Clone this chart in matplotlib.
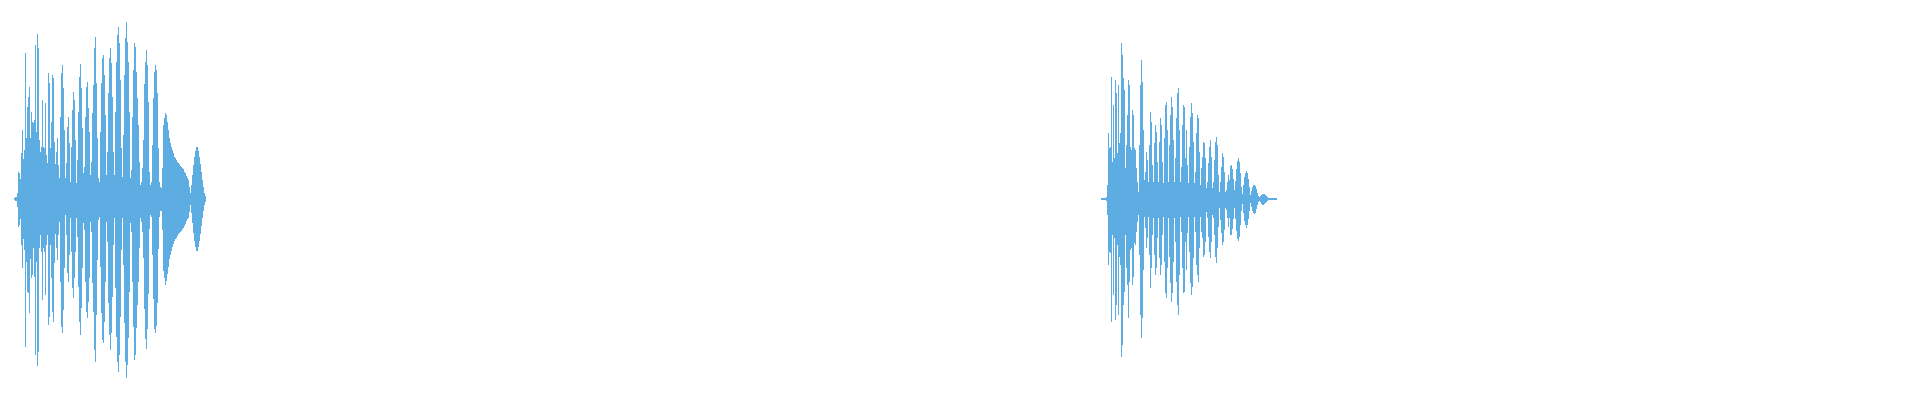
import numpy as np
import matplotlib.pyplot as plt

# --- waveform peaks, one value per pixel column (amplitude in px from the centre line) ---
# first burst starts at column 14
burst1_start = 14
burst1_top = [
    1, 2, 2, 6, 27, 26, 20, 46, 69, 40, 49, 146, 61, 92, 102, 112,
    61, 87, 77, 76, 79, 154, 67, 165, 151, 59, 47, 52, 99, 52, 51, 96,
    44, 36, 126, 116, 51, 77, 124, 121, 57, 35, 47, 61, 34, 21, 82, 126,
    134, 111, 69, 21, 36, 72, 82, 56, 17, 52, 89, 107, 99, 59, 16, 39,
    87, 122, 135, 111, 71, 26, 32, 82, 112, 117, 91, 67, 24, 37, 86, 114,
    151, 162, 116, 61, 21, 17, 67, 116, 141, 144, 124, 84, 24, 47, 106, 141,
    151, 136, 102, 47, 24, 87, 137, 164, 172, 156, 119, 51, 22, 64, 124, 161,
    177, 157, 137, 87, 21, 29, 82, 129, 156, 152, 127, 101, 74, 37, 14, 17,
    31, 59, 115, 137, 149, 134, 97, 27, 14, 17, 54, 101, 127, 134, 129, 106,
    51, 17, 12, 11, 31, 74, 81, 86, 84, 77, 69, 61, 56, 52, 49, 46,
    42, 41, 39, 37, 36, 35, 33, 32, 31, 30, 27, 26, 23, 21, 19, 12,
    6, 14, 24, 34, 42, 48, 52, 52, 48, 42, 35, 27, 19, 12, 6, 3,
]
burst1_bot = [
    1, 2, 2, 8, 28, 26, 20, 46, 69, 40, 51, 148, 63, 93, 94, 114,
    60, 79, 76, 49, 78, 156, 63, 167, 153, 49, 36, 53, 101, 49, 53, 96,
    46, 36, 126, 118, 46, 79, 113, 123, 64, 35, 49, 61, 36, 23, 83, 128,
    134, 111, 69, 16, 36, 74, 83, 56, 19, 53, 89, 99, 79, 53, 19, 38,
    88, 123, 136, 109, 69, 24, 31, 83, 113, 119, 103, 79, 23, 33, 84, 113,
    151, 163, 116, 61, 21, 18, 68, 114, 141, 144, 123, 83, 23, 43, 104, 136,
    151, 134, 98, 46, 19, 89, 138, 163, 173, 156, 118, 51, 19, 66, 124, 163,
    179, 166, 139, 93, 24, 33, 83, 128, 161, 156, 129, 106, 83, 49, 19, 23,
    33, 59, 110, 140, 150, 130, 95, 30, 16, 18, 56, 100, 130, 134, 127, 104,
    50, 18, 12, 12, 31, 72, 79, 86, 82, 75, 68, 60, 56, 52, 48, 45,
    42, 40, 39, 37, 35, 34, 33, 32, 30, 29, 27, 25, 22, 20, 19, 13,
    6, 14, 24, 34, 42, 48, 52, 52, 48, 42, 35, 27, 19, 12, 6, 3,
]

# second burst starts at column 1101
burst2_start = 1101
burst2_top = [
    1, 1, 1, 1, 1, 2, 14, 66, 51, 52, 122, 37, 94, 41, 119, 106,
    46, 114, 56, 66, 156, 144, 121, 109, 31, 54, 84, 119, 114, 52, 49, 89,
    84, 51, 49, 31, 17, 7, 54, 114, 139, 117, 69, 19, 27, 47, 39, 17,
    54, 87, 77, 34, 17, 56, 74, 67, 37, 17, 57, 81, 74, 37, 16, 61,
    94, 97, 69, 17, 54, 84, 102, 92, 59, 17, 41, 81, 106, 111, 69, 17,
    32, 74, 94, 92, 41, 69, 34, 16, 52, 82, 96, 86, 57, 16, 27, 66,
    84, 81, 47, 14, 31, 42, 57, 56, 41, 11, 17, 36, 52, 59, 42, 11,
    17, 39, 57, 62, 54, 24, 7, 17, 32, 46, 42, 27, 7, 9, 17, 24,
    19, 33, 34, 30, 20, 9, 18, 30, 38, 41, 37, 26, 12, 5, 14, 22,
    26, 28, 26, 20, 12, 4, 8, 12, 14, 14, 13, 10, 6, 3, 2, 3,
    4, 5, 5, 5, 4, 3, 2, 1, 1, 1, 1, 1, 1, 1, 1, 1,
]
burst2_bot = [
    1, 1, 1, 1, 1, 2, 16, 66, 53, 54, 123, 36, 96, 39, 121, 106,
    46, 116, 58, 66, 158, 146, 106, 93, 36, 69, 86, 119, 83, 51, 49, 86,
    78, 44, 46, 33, 23, 16, 56, 116, 139, 119, 71, 18, 29, 49, 39, 18,
    56, 89, 69, 36, 19, 56, 76, 69, 39, 19, 59, 76, 66, 36, 18, 63,
    94, 99, 69, 19, 58, 84, 103, 94, 63, 19, 43, 83, 106, 116, 76, 18,
    33, 69, 94, 93, 43, 71, 34, 18, 53, 84, 96, 88, 59, 18, 33, 66,
    76, 83, 49, 18, 33, 39, 58, 56, 43, 13, 19, 38, 53, 59, 43, 16,
    19, 36, 58, 64, 49, 28, 9, 21, 34, 46, 43, 31, 9, 11, 19, 28,
    19, 36, 36, 30, 20, 9, 20, 32, 40, 42, 38, 26, 12, 5, 14, 22,
    26, 29, 26, 20, 12, 4, 8, 12, 14, 15, 14, 10, 6, 3, 2, 3,
    5, 6, 6, 5, 4, 3, 2, 1, 1, 1, 1, 1, 1, 1, 1, 1,
]

COLOR = "#5dade2"

fig = plt.figure(figsize=(19.2, 4), dpi=100)
ax = fig.add_axes([0, 0, 1, 1])

for start, top, bot in [(burst1_start, burst1_top, burst1_bot),
                        (burst2_start, burst2_top, burst2_bot)]:
    top = np.array(top, dtype=float)
    bot = np.array(bot, dtype=float)
    cols = start + np.arange(len(top) + 1)
    ax.fill_between(cols, -np.append(bot, bot[-1]), np.append(top, top[-1]),
                    step="post", color=COLOR, linewidth=0, antialiased=False)

ax.set_xlim(0, 1920)
ax.set_ylim(-201, 199)
ax.axis("off")
fig.savefig("out.png", dpi=100, facecolor="white")
